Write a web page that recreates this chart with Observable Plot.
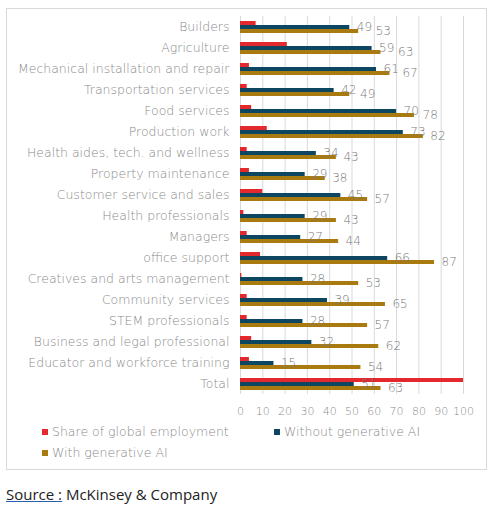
<!DOCTYPE html>
<html>
<head>
<meta charset="utf-8">
<script src="https://cdn.jsdelivr.net/npm/d3@7"></script>
<script src="https://cdn.jsdelivr.net/npm/@observablehq/plot@0.6"></script>
<style>
  html, body { margin: 0; padding: 0; background: #fff; overflow: hidden; }
  body { width: 495px; height: 510px; position: relative; font-family: "DejaVu Sans", sans-serif; }
  #box { position: absolute; left: 6px; top: 8px; width: 481px; height: 462px; box-sizing: border-box; border: 1px solid #d9d9d9; }
  #chart { position: absolute; left: 0; top: 0; }
  .leg { position: absolute; font-size: 12.5px; color: #8a8a8a; font-weight: 200; white-space: nowrap; line-height: 16px; }
  .leg i { display: inline-block; width: 6px; height: 6px; margin-right: 4px; vertical-align: 1px; }
  #source { position: absolute; left: 6px; top: 484px; font-size: 15px; color: #222; white-space: nowrap; font-family: "Open Sans", sans-serif; }
  #source u { text-decoration-color: #2a5db0; }
</style>
</head>
<body>
<div id="box"></div>
<div id="chart"></div>
<div id="legend"></div>
<div id="source"><u>Source :</u> McKinsey &amp; Company</div>
<script>
const categories = [
  "Builders", "Agriculture", "Mechanical installation and repair", "Transportation services",
  "Food services", "Production work", "Health aides, tech. and wellness", "Property maintenance",
  "Customer service and sales", "Health professionals", "Managers", "office support",
  "Creatives and arts management", "Community services", "STEM professionals",
  "Business and legal professional", "Educator and workforce training", "Total"
];
const seriesNames = ["Share of global employment", "Without generative AI", "With generative AI"];
const shareOfEmployment = [7, 21, 4, 3, 5, 12, 3, 4, 10, 1.5, 3, 9, 0.6, 3, 3, 5, 4, 100];
const withoutGenAI = [49, 59, 61, 42, 70, 73, 34, 29, 45, 29, 27, 66, 28, 39, 28, 32, 15, 51];
const withGenAI = [53, 63, 67, 49, 78, 82, 43, 38, 57, 43, 44, 87, 53, 65, 57, 62, 54, 63];
const xTicks = [0, 10, 20, 30, 40, 50, 60, 70, 80, 90, 100];

const colors = ["#e3292d", "#0d4660", "#a87a10"];

const rows = [];
const labels = [];
categories.forEach((c, i) => {
  rows.push({cat: c, series: seriesNames[0], value: shareOfEmployment[i]});
  rows.push({cat: c, series: seriesNames[1], value: withoutGenAI[i]});
  rows.push({cat: c, series: seriesNames[2], value: withGenAI[i]});
  labels.push({cat: c, series: seriesNames[1], value: withoutGenAI[i], at: withoutGenAI[i]});
  // keep the "with" label clear of the "without" label when the bars are close
  labels.push({cat: c, series: seriesNames[2], value: withGenAI[i], at: Math.max(withGenAI[i], withoutGenAI[i] + 8.5)});
});

const chart = Plot.plot({
  width: 495,
  height: 420,
  marginTop: 13,
  marginBottom: 24,
  marginLeft: 240,
  marginRight: 32,
  style: {background: "transparent", fontFamily: "'DejaVu Sans', sans-serif"},
  x: {domain: [0, 100], ticks: xTicks, axis: null},
  y: {domain: seriesNames, axis: null, paddingInner: 0, paddingOuter: 0.9},
  fy: {domain: categories, padding: 0, axis: null},
  color: {domain: seriesNames, range: colors},
  marks: [
    Plot.gridX(xTicks, {stroke: "#d9d9d9", strokeOpacity: 1, strokeWidth: 1}),
    Plot.barX(rows, {fy: "cat", y: "series", x1: 0, x2: "value", fill: "series"}),
    Plot.text(labels, {fy: "cat", y: "series", x: "at", text: d => String(d.value),
      textAnchor: "start", dx: 7, fill: "#7a7a7a", fontSize: 12, fontWeight: 200}),
    Plot.axisFy({anchor: "left", tickSize: 0, tickPadding: 11, label: null,
      fontSize: 12.5, fill: "#8a8a8a", fontWeight: 200}),
    Plot.axisX(xTicks, {anchor: "bottom", tickSize: 0, tickPadding: 13, label: null,
      fontSize: 11, fill: "#8a8a8a", fontWeight: 200, facetAnchor: "bottom"})
  ]
});
document.getElementById("chart").appendChild(chart);

const legendPos = [[42, 424], [274, 424], [42, 445]];
const legend = document.getElementById("legend");
seriesNames.forEach((s, i) => {
  const el = document.createElement("div");
  el.className = "leg";
  el.style.left = legendPos[i][0] + "px";
  el.style.top = legendPos[i][1] + "px";
  el.innerHTML = `<i style="background:${colors[i]}"></i>${s}`;
  legend.appendChild(el);
});
</script>
</body>
</html>
